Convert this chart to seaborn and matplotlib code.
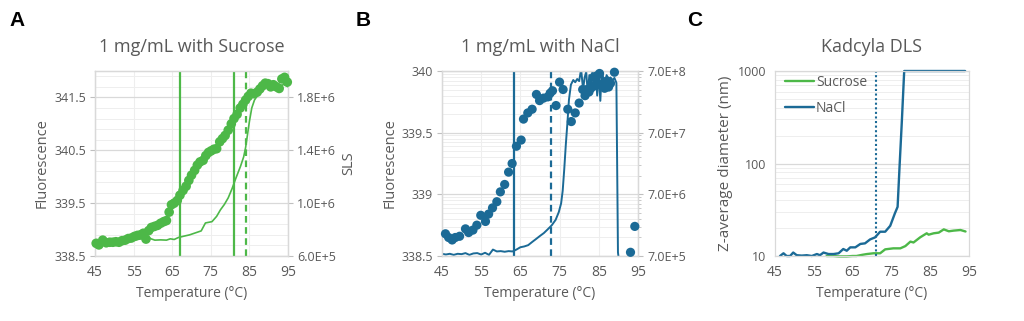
import numpy as np
import pandas as pd
import matplotlib
matplotlib.use("Agg")
import matplotlib.pyplot as plt
from matplotlib.ticker import FixedLocator, FuncFormatter, MultipleLocator, NullFormatter
import seaborn as sns

# ---------------- data ----------------
GREEN = "#4DB848"
BLUE = "#1B6A96"

# Panel A: 1 mg/mL with Sucrose
A_dot_T = [45.3, 46.0, 47.0, 47.9, 48.8, 49.6, 50.4, 51.2, 52.0, 52.8, 53.6, 54.4, 55.2, 56.0,
           56.8, 57.5, 58.2, 58.9, 59.6, 60.4, 61.2, 62.0, 62.8, 63.5, 64.2, 64.8, 65.5, 66.3,
           67.0, 67.8, 68.6, 69.3, 70.0, 70.8, 71.5, 72.2, 73.0, 73.7, 74.4, 75.1, 75.8, 76.5,
           77.3, 78.0, 78.7, 79.5, 80.3, 81.0, 81.8, 82.6, 83.3, 84.0, 84.7, 85.4, 86.2, 87.0,
           87.7, 88.4, 89.1, 89.8, 90.5, 91.2, 92.0, 92.7, 93.4, 94.1, 94.8]
A_fluor = [338.74, 338.71, 338.80, 338.75, 338.76, 338.76, 338.77, 338.76, 338.79, 338.80,
           338.83, 338.84, 338.87, 338.89, 338.90, 338.93, 338.82, 338.98, 339.04, 339.06,
           339.08, 339.12, 339.15, 339.17, 339.33, 339.47, 339.50, 339.55, 339.65, 339.74,
           339.82, 339.93, 340.03, 340.12, 340.22, 340.28, 340.31, 340.40, 340.46, 340.49,
           340.52, 340.53, 340.66, 340.72, 340.78, 340.88, 341.00, 341.10, 341.18, 341.30,
           341.37, 341.45, 341.52, 341.58, 341.57, 341.60, 341.66, 341.72, 341.77, 341.76,
           341.70, 341.74, 341.70, 341.67, 341.85, 341.88, 341.79]
A_sls_T = [45, 47, 50, 53, 56, 58, 58.8, 59.5, 60.5, 62, 63.5, 64.5, 65.5, 66.6, 68, 69.5,
           71, 72.5, 73.6, 75.3, 76.5, 77.5, 78.5, 79.5, 80.5, 81.5, 82.7, 83.5, 84.0, 84.5,
           85.0, 85.6, 86.3, 87.2, 88.2, 89.5, 91, 92.5, 94, 95]
A_sls = [6.95e5, 6.9e5, 7.0e5, 7.1e5, 7.25e5, 7.4e5, 7.45e5, 7.3e5, 7.2e5, 7.22e5, 7.2e5,
         7.3e5, 7.25e5, 7.4e5, 7.5e5, 7.6e5, 7.75e5, 7.9e5, 8.5e5, 8.6e5, 9.0e5, 9.5e5,
         9.9e5, 1.04e6, 1.11e6, 1.19e6, 1.28e6, 1.35e6, 1.42e6, 1.52e6, 1.62e6, 1.72e6,
         1.78e6, 1.82e6, 1.86e6, 1.88e6, 1.89e6, 1.88e6, 1.90e6, 1.88e6]
A_vlines_solid = [66.9, 80.9]
A_vlines_dashed = [84.2]

# Panel B: 1 mg/mL with NaCl
B_dot_T = [45.9, 46.7, 47.6, 48.4, 49.5, 51.0, 51.8, 52.9, 53.9, 54.9, 56.1, 56.9, 57.9, 59.0,
           59.9, 61.0, 62.0, 62.9, 64.0, 65.2, 65.8, 66.9, 68.0, 69.1, 69.9, 70.9, 72.0, 72.6,
           73.2, 74.1, 75.0, 75.9, 77.1, 78.0, 79.0, 80.0, 80.9, 81.5, 82.0, 82.5, 83.0, 83.7,
           84.0, 84.5, 85.2, 86.2, 86.5, 87.1, 87.5, 88.0, 89.0, 93.1, 94.2]
B_fluor = [338.68, 338.65, 338.63, 338.65, 338.66, 338.72, 338.69, 338.71, 338.75, 338.83,
           338.78, 338.84, 338.89, 338.94, 339.02, 339.08, 339.18, 339.25, 339.39, 339.44,
           339.61, 339.66, 339.69, 339.81, 339.76, 339.78, 339.79, 339.82, 339.84, 339.72,
           339.91, 339.85, 339.69, 339.59, 339.66, 339.74, 339.85, 339.80, 339.85, 339.83,
           339.86, 339.95, 339.88, 339.96, 339.98, 339.90, 339.86, 339.92, 339.87, 339.90,
           339.99, 338.53, 338.74]
B_sls_T = [45, 46, 47, 48, 49, 50, 51, 52, 53, 54, 55, 56, 57, 58, 59, 60, 61, 62, 63, 64, 65,
           66, 67, 68, 69, 70, 71, 72, 73, 74, 74.8, 75.4, 75.8, 76.2, 76.6, 77.0, 77.4, 77.9,
           78.5, 79.0, 79.5, 80.0, 80.5, 81.0, 81.4, 81.8, 82.2, 82.6, 83.0, 83.4, 83.8, 84.2,
           84.6, 85.0, 85.4, 85.8, 86.2, 86.6, 87.0, 87.5, 88.0, 88.5, 89.0, 89.5, 89.9, 90.3]
B_sls = [7.6e5, 7.4e5, 7.6e5, 7.3e5, 7.6e5, 7.5e5, 7.8e5, 7.3e5, 7.7e5, 7.8e5, 7.4e5, 7.9e5,
         7.3e5, 8.9e5, 8.3e5, 8.4e5, 8.2e5, 8.4e5, 8.3e5, 8.9e5, 9.7e5, 1.0e6, 1.05e6, 1.18e6,
         1.32e6, 1.48e6, 1.65e6, 1.9e6, 2.2e6, 2.7e6, 3.6e6, 5.0e6, 8.0e6, 1.8e7, 4.5e7, 1.0e8,
         2.4e8, 4.2e8, 5.0e8, 4.6e8, 5.2e8, 4.8e8, 7.5e8, 3.5e8, 5.5e8, 6.8e8, 3.0e8, 6.0e8,
         3.6e8, 7.2e8, 4.0e8, 7.5e8, 2.8e8, 6.5e8, 2.3e8, 7.5e8, 5.0e8, 3.5e8, 6.0e8, 5.2e8,
         5.5e8, 5.0e8, 5.4e8, 4.5e8, 8e5, 5e5]
B_vlines_solid = [63.5]
B_vlines_dashed = [72.9]

# Panel C: Kadcyla DLS
C_nacl_T = [46.3, 47.2, 48.0, 48.9, 49.7, 50.6, 51.9, 53.2, 54.5, 55.8, 56.6, 57.5, 58.8, 60.1,
            61.4, 62.6, 63.5, 64.4, 65.7, 67.0, 68.2, 69.5, 70.8, 72.1, 73.4, 74.7, 75.9, 76.6,
            77.1, 77.7, 78.3, 94.0]
C_nacl = [10.0, 10.7, 10.0, 10.0, 10.9, 10.2, 10.1, 10.2, 10.0, 10.5, 10.2, 10.9, 10.5, 10.5,
          10.7, 11.9, 11.4, 12.4, 12.4, 13.5, 13.7, 15.1, 15.9, 18.3, 18.3, 21.2, 28.9, 34.0,
          92.0, 290.0, 1000.0, 1000.0]
C_suc_T = [58.3, 60.0, 61.5, 63.5, 65.0, 66.0, 67.5, 68.7, 70.4, 72.1, 73.4, 75.5, 77.3, 78.6,
           79.9, 80.7, 82.4, 84.1, 84.6, 85.9, 87.2, 88.5, 89.8, 91.0, 92.8, 94.1]
C_suc = [10.0, 10.0, 9.9, 9.9, 10.0, 10.0, 10.3, 10.5, 10.7, 10.7, 11.8, 12.1, 12.1, 12.8,
         14.3, 14.0, 15.9, 17.6, 17.0, 17.6, 17.9, 19.4, 18.5, 18.8, 19.1, 18.4]
C_vline_dotted = [71.1]
C_series = ["Sucrose", "NaCl"]

x_ticks = [45, 55, 65, 75, 85, 95]
A_left_ticks = [338.5, 339.5, 340.5, 341.5]
A_right_ticks = [6.0e5, 1.0e6, 1.4e6, 1.8e6]
B_left_ticks = [338.5, 339.0, 339.5, 340.0]
B_left_labels = ["338.5", "339", "339.5", "340"]
B_right_ticks = [7e5, 7e6, 7e7, 7e8]
C_ticks = [10, 100, 1000]

# ---------------- style ----------------
sns.set_theme(style="white")
plt.rcParams["font.family"] = ["Open Sans", "DejaVu Sans"]
TXT = "#595959"
GRID = "#D9D9D9"
MINOR = "#EEEEEE"
TICKC = "#BFBFBF"
FS_TICK = 9
FS_XTICK = 10
FS_LAB = 10
FS_YLAB = 10.5
FS_TITLE = 13

fig = plt.figure(figsize=(10.24, 3.21), dpi=100)


def sci(v, pos=None):
    m, e = f"{v:.1E}".split("E")
    return f"{m}E+{int(e)}"


def ytick_style(ax):
    ax.tick_params(axis="y", which="major", direction="out", length=3.5, width=0.8,
                   color=TICKC, labelcolor=TXT, labelsize=FS_TICK, pad=3)
    ax.tick_params(axis="y", which="minor", length=0)


def base_style(ax, vgrid=True):
    """Base (bottom) axes: x axis, grid, frame."""
    ax.set_xlim(45, 95)
    ax.xaxis.set_major_locator(FixedLocator(x_ticks))
    ax.tick_params(axis="x", which="major", direction="out", length=3.5, width=0.8,
                   color=TICKC, labelcolor=TXT, labelsize=FS_XTICK, pad=3)
    ytick_style(ax)
    for s in ax.spines.values():
        s.set_color(GRID)
        s.set_linewidth(0.9)
        s.set_visible(True)
    ax.grid(False)
    ax.grid(True, axis="y", which="minor", color=MINOR, linewidth=0.7)
    ax.grid(True, axis="y", which="major", color=GRID, linewidth=0.9)
    if vgrid:
        ax.grid(True, axis="x", which="major", color=MINOR, linewidth=0.8)
    ax.set_axisbelow(True)
    ax.set_xlabel("Temperature (°C)", color=TXT, fontsize=FS_LAB, labelpad=4)


def twin_pair(rect):
    """Base axes carries the right-hand (SLS) scale, twin carries fluorescence on the left."""
    axS = fig.add_axes(rect)
    axF = axS.twinx()
    axS.yaxis.tick_right()
    axS.yaxis.set_label_position("right")
    axF.yaxis.tick_left()
    axF.yaxis.set_label_position("left")
    axF.grid(False)
    for s in axF.spines.values():
        s.set_color(GRID)
        s.set_linewidth(0.9)
    return axS, axF


# ---------------- panel A ----------------
axAS, axAF = twin_pair([0.0928, 0.2025, 0.1885, 0.5763])
sns.lineplot(x=A_sls_T, y=A_sls, ax=axAS, color=GREEN, linewidth=1.2, sort=False,
             estimator=None)
sns.scatterplot(x=A_dot_T, y=A_fluor, ax=axAF, color=GREEN, s=48, edgecolor="none",
                clip_on=False, zorder=3)
for v in A_vlines_solid:
    axAF.axvline(v, color=GREEN, linewidth=1.6, zorder=2)
for v in A_vlines_dashed:
    axAF.axvline(v, color=GREEN, linewidth=1.6, linestyle=(0, (3, 2)), zorder=2)

axAS.set_ylim(6.0e5, 2.0e6)
axAS.yaxis.set_major_locator(FixedLocator(A_right_ticks))
axAS.yaxis.set_minor_locator(MultipleLocator(8e4, offset=4e4))
axAS.yaxis.set_major_formatter(FuncFormatter(sci))
base_style(axAS)
axAF.set_ylim(338.5, 342.0)
axAF.yaxis.set_major_locator(FixedLocator(A_left_ticks))
ytick_style(axAF)
axAF.set_ylabel("Fluorescence", color=TXT, fontsize=FS_YLAB, labelpad=3)
axAS.set_ylabel("SLS", color=TXT, fontsize=FS_YLAB, labelpad=4)
axAF.set_title("1 mg/mL with Sucrose", color=TXT, fontsize=FS_TITLE, pad=14)

# ---------------- panel B ----------------
axBS, axBF = twin_pair([0.4316, 0.2025, 0.1914, 0.5763])
sns.lineplot(x=B_sls_T, y=B_sls, ax=axBS, color=BLUE, linewidth=1.4, sort=False,
             estimator=None)
sns.scatterplot(x=B_dot_T, y=B_fluor, ax=axBF, color=BLUE, s=44, edgecolor="none",
                clip_on=False, zorder=3)
for v in B_vlines_solid:
    axBF.axvline(v, color=BLUE, linewidth=1.6, zorder=2)
for v in B_vlines_dashed:
    axBF.axvline(v, color=BLUE, linewidth=1.6, linestyle=(0, (3, 2)), zorder=2)

axBS.set_yscale("log")
axBS.set_ylim(7e5, 7e8)
axBS.yaxis.set_major_locator(FixedLocator(B_right_ticks))
axBS.yaxis.set_major_formatter(FuncFormatter(sci))
axBS.yaxis.set_minor_locator(FixedLocator([7e5 * 10 ** d * k for d in range(3)
                                           for k in range(2, 10)]))
axBS.yaxis.set_minor_formatter(NullFormatter())
base_style(axBS)
axBS.tick_params(axis="y", which="minor", direction="out", length=2.2, width=0.6,
                 color=TICKC)
axBF.set_ylim(338.5, 340.0)
axBF.yaxis.set_major_locator(FixedLocator(B_left_ticks))
axBF.set_yticklabels(B_left_labels)
ytick_style(axBF)
axBF.set_ylabel("Fluorescence", color=TXT, fontsize=FS_YLAB, labelpad=3)
axBF.set_title("1 mg/mL with NaCl", color=TXT, fontsize=FS_TITLE, pad=14)

# ---------------- panel C ----------------
axC = fig.add_axes([0.7568, 0.2025, 0.1895, 0.5763])
dfC = pd.concat([
    pd.DataFrame({"T": C_suc_T, "D": C_suc, "Buffer": C_series[0]}),
    pd.DataFrame({"T": C_nacl_T, "D": C_nacl, "Buffer": C_series[1]}),
], ignore_index=True)
sns.lineplot(data=dfC, x="T", y="D", hue="Buffer", hue_order=C_series,
             palette=[GREEN, BLUE], ax=axC, linewidth=1.7, sort=False, estimator=None)
for ln in axC.get_lines():
    ln.set_clip_on(False)
for v in C_vline_dotted:
    axC.axvline(v, color=BLUE, linewidth=1.5, linestyle=(0, (1, 1.2)), zorder=2)
axC.set_yscale("log")
axC.set_ylim(10, 1000)
axC.yaxis.set_major_locator(FixedLocator(C_ticks))
axC.yaxis.set_major_formatter(FuncFormatter(lambda v, p: f"{v:g}"))
axC.yaxis.set_minor_locator(FixedLocator([10 ** d * k for d in (1, 2) for k in range(2, 10)]))
axC.yaxis.set_minor_formatter(NullFormatter())
base_style(axC, vgrid=False)
axC.set_ylabel("Z-average diameter (nm)", color=TXT, fontsize=11, labelpad=3)
axC.set_title("Kadcyla DLS", color=TXT, fontsize=FS_TITLE, pad=14)
leg = axC.legend(loc="upper left", bbox_to_anchor=(0.0, 1.03), frameon=False, fontsize=10,
                 handlelength=2.1, handletextpad=0.15, labelspacing=0.75, borderaxespad=0.3)
for t in leg.get_texts():
    t.set_color(TXT)

# ---------------- panel letters ----------------
for lbl, x in zip(["A", "B", "C"], [17.5, 363, 695]):
    fig.text(x / 1024, 1 - 20 / 321, lbl, fontsize=15, fontweight="bold", color="black",
             family=["Liberation Sans", "DejaVu Sans"], ha="center", va="center")

fig.savefig("out.png", dpi=100)
